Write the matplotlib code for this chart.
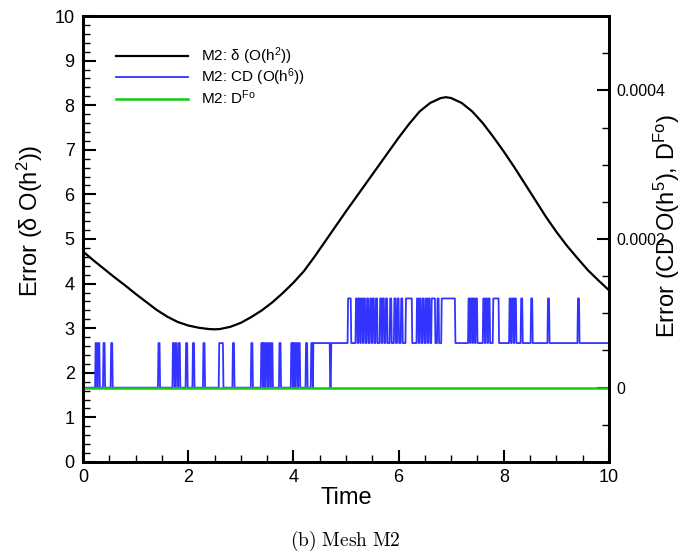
import matplotlib
matplotlib.use('Agg')
import matplotlib.pyplot as plt
from matplotlib.ticker import MultipleLocator

plt.rcParams['font.family'] = ['Liberation Sans', 'DejaVu Sans']
plt.rcParams['mathtext.fontset'] = 'custom'
plt.rcParams['mathtext.rm'] = 'Liberation Sans'
plt.rcParams['mathtext.it'] = 'Liberation Sans:italic'

# black curve: delta error (left axis)
t_delta = [0.0, 0.2, 0.4, 0.6, 0.8, 1.0, 1.2, 1.4, 1.6, 1.8, 2.0, 2.2, 2.4, 2.5, 2.6,
           2.8, 3.0, 3.2, 3.4, 3.6, 3.8, 4.0, 4.2, 4.4, 4.6, 4.8, 5.0, 5.2, 5.4,
           5.6, 5.8, 6.0, 6.2, 6.4, 6.6, 6.8, 6.9, 7.0, 7.2, 7.4, 7.6, 7.8, 8.0,
           8.2, 8.4, 8.6, 8.8, 9.0, 9.2, 9.4, 9.6, 9.8, 10.0]
delta = [4.72, 4.52, 4.33, 4.14, 3.96, 3.77, 3.59, 3.41, 3.26, 3.14, 3.06, 3.01, 2.98,
         2.975, 2.98, 3.03, 3.12, 3.25, 3.40, 3.58, 3.79, 4.02, 4.28, 4.60, 4.94,
         5.28, 5.62, 5.95, 6.28, 6.61, 6.94, 7.27, 7.58, 7.86, 8.05, 8.16, 8.18,
         8.16, 8.05, 7.86, 7.60, 7.29, 6.96, 6.61, 6.24, 5.87, 5.50, 5.16, 4.85,
         4.57, 4.30, 4.07, 3.85]

# CD error (right axis): quantised levels
cd_step = 6.0e-5
# phase 1: level 0, spikes/intervals at level 1
cd_up1 = [(0.24, 0.26), (0.29, 0.31), (0.39, 0.41), (0.535, 0.555), (1.435, 1.455),
          (1.71, 1.73), (1.76, 1.78), (1.82, 1.84), (1.96, 1.98), (2.09, 2.11),
          (2.29, 2.31), (2.59, 2.66), (2.85, 2.87), (3.20, 3.22), (3.39, 3.41),
          (3.43, 3.45), (3.48, 3.50), (3.53, 3.55), (3.58, 3.60), (3.735, 3.755),
          (3.96, 3.98), (4.0, 4.02), (4.05, 4.07), (4.10, 4.12), (4.24, 4.26),
          (4.34, 4.36), (4.38, 4.69)]
cd_switch = 4.71
# phase 2: level 1, spikes/intervals at level 2
cd_up2 = [(5.04, 5.09), (5.19, 5.21), (5.24, 5.26), (5.29, 5.31), (5.34, 5.36),
          (5.40, 5.42), (5.46, 5.48), (5.51, 5.53), (5.57, 5.59), (5.65, 5.67),
          (5.70, 5.72), (5.76, 5.78), (5.84, 5.86), (5.92, 5.94), (5.98, 6.0),
          (6.05, 6.07), (6.14, 6.25), (6.35, 6.37), (6.40, 6.42), (6.46, 6.48),
          (6.52, 6.54), (6.57, 6.59), (6.63, 6.69), (6.74, 6.76), (6.82, 7.07),
          (7.33, 7.35), (7.38, 7.40), (7.42, 7.44), (7.47, 7.49), (7.61, 7.63),
          (7.66, 7.68), (7.71, 7.73), (7.80, 7.90), (8.11, 8.13), (8.16, 8.18),
          (8.21, 8.23), (8.33, 8.35), (8.52, 8.54), (8.84, 8.86), (9.41, 9.43)]

t_fo = [0.0, 10.0]
fo = [0.0, 0.0]


def step_series(intervals, base, top, ramp=0.01):
    ts, vs = [], []
    for a, b in intervals:
        ts += [a - ramp, a, b, b + ramp]
        vs += [base, top, top, base]
    return ts, vs


t1, v1 = step_series(cd_up1, 0.0, cd_step)
t2, v2 = step_series(cd_up2, cd_step, 2 * cd_step)
t_cd = [0.0] + t1 + [cd_switch, cd_switch + 0.01] + t2 + [10.0]
cd = [0.0] + v1 + [0.0, cd_step] + v2 + [cd_step]

fig = plt.figure(figsize=(6.9, 5.56), dpi=100)
ax = fig.add_axes([0.1203, 0.1691, 0.7623, 0.8021])
ax2 = ax.twinx()

l1, = ax.plot(t_delta, delta, color='black', lw=1.6, label=r'M2: δ (O(h$^2$))')
l2, = ax2.plot(t_cd, cd, color='#3333ff', lw=1.3, label=r'M2: CD (O(h$^6$))')
l3, = ax2.plot(t_fo, fo, color='#11cc11', lw=1.8, label=r'M2: D$^{\mathrm{Fo}}$')

ax.set_xlim(0, 10)
ax.set_ylim(0, 10)
ax2.set_ylim(-0.0001, 0.0005)

ax.xaxis.set_major_locator(MultipleLocator(2))
ax.xaxis.set_minor_locator(MultipleLocator(0.5))
ax.yaxis.set_major_locator(MultipleLocator(1))
ax.yaxis.set_minor_locator(MultipleLocator(0.2))
ax2.yaxis.set_minor_locator(MultipleLocator(0.00005))
ax2.set_yticks([0, 0.0002, 0.0004])
ax2.set_yticklabels(['0', '0.0002', '0.0004'])

ax.tick_params(which='both', direction='in', labelsize=13, width=1.5, top=False, right=False)
ax.tick_params(which='major', length=9)
ax.tick_params(which='minor', length=5, width=1.0)
ax.tick_params(axis='y', pad=6)
ax.tick_params(axis='x', pad=5)
ax2.tick_params(which='both', direction='in', labelsize=11.5, width=1.5)
ax2.tick_params(which='major', length=9, pad=5)
ax2.tick_params(which='minor', length=5, width=1.0)

for a in (ax, ax2):
    for s in a.spines.values():
        s.set_linewidth(2)

ax.set_xlabel('Time', fontsize=17)
ax.set_ylabel(r'Error (δ O(h$^2$))', fontsize=17)
ax2.set_ylabel(r'Error (CD O(h$^5$), D$^{\mathrm{Fo}}$)', fontsize=17)
ax.xaxis.set_label_coords(0.5, -0.057)
ax.yaxis.set_label_coords(-0.072, 0.54)
ax2.yaxis.set_label_coords(1.082, 0.53)

ax.legend(handles=[l1, l2, l3], loc='upper left', bbox_to_anchor=(0.045, 0.955),
          frameon=False, fontsize=11, handlelength=4.7, labelspacing=0.0,
          handletextpad=0.9, borderaxespad=0.2)

fig.text(0.5, 0.027, r'$\mathrm{(b)\ Mesh\ M2}$', math_fontfamily='cm',
         fontsize=14, ha='center', va='center')

plt.savefig('out.png', dpi=100)
